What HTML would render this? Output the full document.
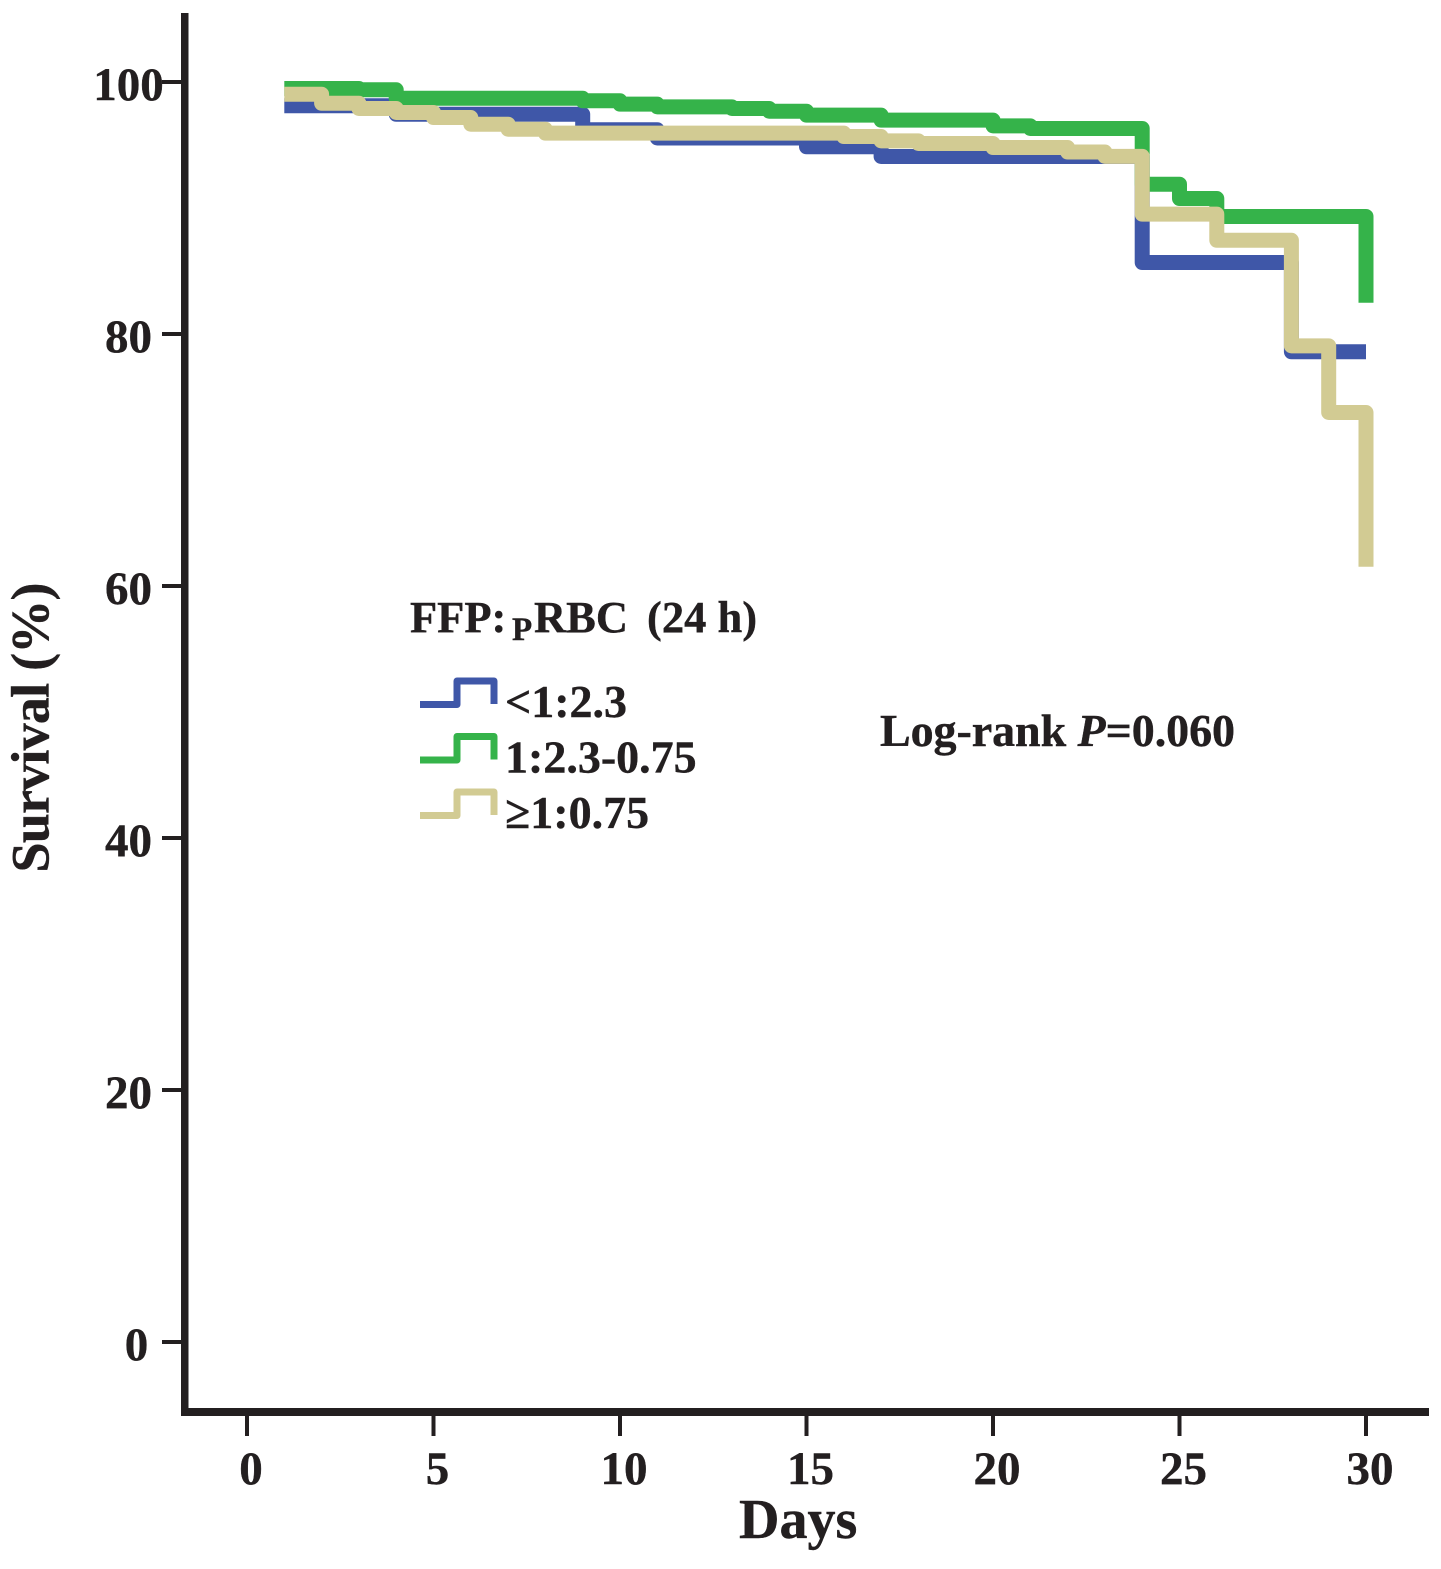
<!DOCTYPE html>
<html lang="en">
<head>
<meta charset="utf-8">
<title>Survival by FFP:pRBC ratio</title>
<style>
html,body{margin:0;padding:0;background:#fff;}
svg{display:block;}
text{font-family:"Liberation Serif",serif;font-weight:bold;fill:#231f20;stroke:#231f20;stroke-width:0.4;}
</style>
</head>
<body>
<svg id="chart" xmlns="http://www.w3.org/2000/svg" width="1441" height="1569" viewBox="0 0 1441 1569">
  <rect x="0" y="0" width="1441" height="1569" fill="#ffffff"/>
  <g id="series"></g>
  <rect x="181" y="13" width="7.5" height="1403" fill="#231f20"/>
  <rect x="184" y="1408" width="1245" height="8" fill="#231f20"/>
  <g id="ticks"></g>
  <text transform="translate(48.5,872.5) rotate(-90)" font-size="54" textLength="290" lengthAdjust="spacing">Survival (%)</text>
  <text x="739" y="1538" font-size="56">Days</text>
  <text y="632" font-size="44.5"><tspan x="410">FFP:</tspan><tspan x="512" y="640" font-size="33">P</tspan><tspan x="534" y="632">RBC</tspan><tspan x="647" y="632">(24 h)</tspan></text>
  <path d="M420 704.5H457V681H494V704" fill="none" stroke="#3f57a8" stroke-width="7" stroke-linejoin="round"/>
  <text x="505" y="717" font-size="46">&lt;1:2.3</text>
  <path d="M420 760H457V736.5H494V759.5" fill="none" stroke="#35b34a" stroke-width="7" stroke-linejoin="round"/>
  <text x="505" y="772.5" font-size="46">1:2.3-0.75</text>
  <path d="M420 815.5H457V792H494V815" fill="none" stroke="#d2cb93" stroke-width="7" stroke-linejoin="round"/>
  <text x="505" y="828" font-size="46">≥1:0.75</text>
  <text x="880" y="746" font-size="46" textLength="355">Log-rank <tspan font-style="italic">P</tspan>=0.060</text>
</svg>
<script>
const xTickValues = [0, 5, 10, 15, 20, 25, 30];
const yTickValues = [0, 20, 40, 60, 80, 100];

const lowDays = [1, 4, 9, 11, 15, 17, 24, 28, 30];
const lowSurvival = [98.11, 97.44, 96.21, 95.56, 94.86, 94.09, 85.67, 78.59, 78.59];

const midDays = [1, 3, 4, 9, 10, 11, 13, 14, 15, 17, 20, 21, 24, 25, 26, 30];
const midSurvival = [99.48, 99.38, 98.71, 98.51, 98.24, 98.03, 97.90, 97.68, 97.37, 96.97, 96.52, 96.31, 91.89, 90.75, 89.33, 82.48];

const highDays = [1, 2, 3, 4, 5, 6, 7, 8, 16, 17, 18, 20, 22, 23, 24, 26, 28, 29, 30];
const highSurvival = [99.03, 98.31, 97.90, 97.58, 97.18, 96.65, 96.25, 95.94, 95.67, 95.33, 95.12, 94.80, 94.44, 94.10, 89.51, 87.44, 79.06, 73.77, 61.53];

const NS = 'http://www.w3.org/2000/svg';
const xScale = function (day) { return 247 + 37.3 * day; };
const yScale = function (pct) { return 1342 - 12.6 * pct; };

function stepPath(days, values) {
  let d = 'M' + xScale(days[0]).toFixed(2) + ' ' + yScale(values[0]).toFixed(2);
  for (let i = 1; i < days.length; i++) {
    d += 'H' + xScale(days[i]).toFixed(2) + 'V' + yScale(values[i]).toFixed(2);
  }
  return d;
}

const seriesGroup = document.getElementById('series');
const tickGroup = document.getElementById('ticks');

const lowCurve = document.createElementNS(NS, 'path');


lowCurve.setAttribute('d', stepPath(lowDays, lowSurvival));
lowCurve.setAttribute('stroke', '#3f57a8');
seriesGroup.appendChild(lowCurve);

const midCurve = document.createElementNS(NS, 'path');


midCurve.setAttribute('d', stepPath(midDays, midSurvival));
midCurve.setAttribute('stroke', '#35b34a');
seriesGroup.appendChild(midCurve);

const highCurve = document.createElementNS(NS, 'path');


highCurve.setAttribute('d', stepPath(highDays, highSurvival));
highCurve.setAttribute('stroke', '#d2cb93');
seriesGroup.appendChild(highCurve);

[lowCurve, midCurve, highCurve].forEach(function (curve) {
  curve.setAttribute('fill', 'none');
  curve.setAttribute('stroke-width', '15');
  curve.setAttribute('stroke-linejoin', 'round');
  curve.setAttribute('stroke-linecap', 'butt');
});

xTickValues.forEach(function (value) {
  const tick = document.createElementNS(NS, 'line');
  
  
  tick.setAttribute('x1', xScale(value));
  tick.setAttribute('x2', xScale(value));
  tick.setAttribute('y1', 1414);
  tick.setAttribute('y2', 1436);
  tick.setAttribute('stroke', '#231f20');
  tick.setAttribute('stroke-width', '4');
  tickGroup.appendChild(tick);

  const label = document.createElementNS(NS, 'text');
  
  
  label.setAttribute('x', xScale(value) + 4);
  label.setAttribute('y', 1484);
  label.setAttribute('font-size', '47');
  label.setAttribute('text-anchor', 'middle');
  label.textContent = String(value);
  tickGroup.appendChild(label);
});

yTickValues.forEach(function (value) {
  const tick = document.createElementNS(NS, 'line');
  
  
  tick.setAttribute('x1', 162);
  tick.setAttribute('x2', 183);
  tick.setAttribute('y1', yScale(value));
  tick.setAttribute('y2', yScale(value));
  tick.setAttribute('stroke', '#231f20');
  tick.setAttribute('stroke-width', '4');
  tickGroup.appendChild(tick);

  const label = document.createElementNS(NS, 'text');
  
  
  label.setAttribute('x', value === 0 ? 136.5 : 128.5);
  label.setAttribute('y', yScale(value) + 18);
  label.setAttribute('font-size', '47');
  label.setAttribute('text-anchor', 'middle');
  label.textContent = String(value);
  tickGroup.appendChild(label);
});
</script>
</body>
</html>
